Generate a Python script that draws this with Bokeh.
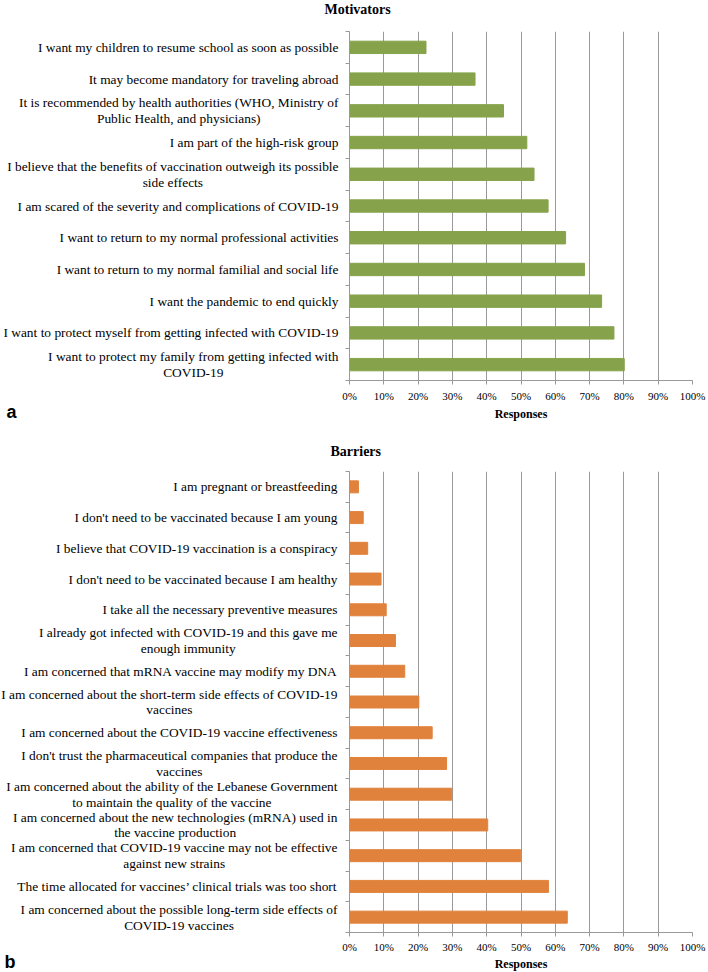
from bokeh.plotting import figure
from bokeh.layouts import column
from bokeh.models import Range1d, FixedTicker, NumeralTickFormatter
from bokeh.core.properties import value
from bokeh.embed import file_html
from bokeh.resources import INLINE

# Motivators (top to bottom as in the chart)
motivators = [
    "I want my children to resume school as soon as possible",
    "It may become mandatory for traveling abroad",
    "It is recommended by health authorities (WHO, Ministry of\nPublic Health, and physicians)",
    "I am part of the high-risk group",
    "I believe that the benefits of vaccination outweigh its possible\nside effects",
    "I am scared of the severity and complications of COVID-19",
    "I want to return to my normal professional activities",
    "I want to return to my normal familial and social life",
    "I want the pandemic to end quickly",
    "I want to protect myself from getting infected with COVID-19",
    "I want to protect my family from getting infected with\nCOVID-19",
]
motivator_values = [0.223, 0.366, 0.449, 0.517, 0.538, 0.579, 0.630, 0.685, 0.735, 0.771, 0.801]

# Barriers (top to bottom as in the chart)
barriers = [
    "I am pregnant or breastfeeding",
    "I don't need to be vaccinated because I am young",
    "I believe that COVID-19 vaccination is a conspiracy",
    "I don't need to be vaccinated because I am healthy",
    "I take all the necessary preventive measures",
    "I already got infected with COVID-19 and this gave me\nenough immunity",
    "I am concerned that mRNA vaccine may modify my DNA",
    "I am concerned about the short-term side effects of COVID-19\nvaccines",
    "I am concerned about the COVID-19 vaccine effectiveness",
    "I don't trust the pharmaceutical companies that produce the\nvaccines",
    "I am concerned about the ability of the Lebanese Government\nto maintain the quality of the vaccine",
    "I am concerned about the new technologies (mRNA) used in\nthe vaccine production",
    "I am concerned that COVID-19 vaccine may not be effective\nagainst new strains",
    "The time allocated for vaccines\u2019 clinical trials was too short",
    "I am concerned about the possible long-term side effects of\nCOVID-19 vaccines",
]
barrier_values = [0.026, 0.040, 0.053, 0.092, 0.107, 0.134, 0.161, 0.202, 0.241, 0.283, 0.298, 0.403, 0.499, 0.580, 0.635]

x_ticks = [i / 10 for i in range(11)]

SERIF = "Liberation Serif"
GRID = "#999999"
W = 708


def bar_chart(labels, values, color, title, title_dx, title_dy, letter, letter_dy,
              height, top, bottom, left, label_gap, tick_standoff, resp_dy):
    n = len(labels)
    idx = list(range(n))
    p = figure(width=W, height=height, output_backend="svg", toolbar_location=None,
               x_range=Range1d(0, 1), y_range=Range1d(n - 0.5, -0.5),
               min_border_left=left, min_border_right=16,
               min_border_top=top, min_border_bottom=height - bottom)
    p.outline_line_color = None
    p.background_fill_color = "white"

    p.hbar(y=idx, left=0, right=values, height=0.39, color=color)

    # category labels, right-aligned block with centred lines
    p.text(x=[0] * n, y=idx, text=labels, x_offset=-label_gap,
           anchor="center_right", text_align="center", text_baseline="middle",
           text_font=value(SERIF), text_font_size="13.4px", text_color="black",
           text_line_height=1.05, level="overlay")

    # chart title above the frame's top-left corner
    p.text(x=[0], y=[-0.5], text=[title], x_offset=title_dx, y_offset=-title_dy,
           text_align="left", text_baseline="middle",
           text_font=value(SERIF), text_font_style="bold", text_font_size="14px",
           text_color="black", level="overlay")

    # axis title under the tick labels, centred on the frame
    p.text(x=[0.5], y=[n - 0.5], text=["Responses"], y_offset=resp_dy,
           text_align="center", text_baseline="middle",
           text_font=value(SERIF), text_font_style="bold", text_font_size="12px",
           text_color="black", level="overlay")

    # panel letter in the lower-left corner of the canvas
    p.text(x=[0], y=[n - 0.5], text=[letter], x_offset=-left + 4, y_offset=letter_dy,
           text_align="left", text_baseline="middle",
           text_font=value("Liberation Sans"), text_font_style="bold",
           text_font_size="18px", text_color="black", level="overlay")

    p.xaxis.ticker = FixedTicker(ticks=x_ticks)
    p.xaxis.formatter = NumeralTickFormatter(format="0%")
    p.xaxis.axis_line_color = GRID
    p.xaxis.major_tick_line_color = GRID
    p.xaxis.major_tick_out = 4
    p.xaxis.major_tick_in = 0
    p.xaxis.minor_tick_line_color = None
    p.xaxis.major_label_standoff = tick_standoff
    p.xaxis.major_label_text_font = SERIF
    p.xaxis.major_label_text_font_size = "11px"
    p.xaxis.major_label_text_color = "black"

    p.yaxis.ticker = FixedTicker(ticks=[i - 0.5 for i in range(n + 1)])
    p.yaxis.major_label_text_color = None
    p.yaxis.major_label_text_font_size = "1px"
    p.yaxis.axis_line_color = GRID
    p.yaxis.major_tick_line_color = GRID
    p.yaxis.major_tick_out = 4
    p.yaxis.major_tick_in = 0
    p.yaxis.minor_tick_line_color = None

    p.xgrid.ticker = FixedTicker(ticks=x_ticks)
    p.xgrid.grid_line_color = GRID
    p.ygrid.grid_line_color = None
    return p


# top chart: frame 347..692 x 31..380 on a 440 px high canvas
top = bar_chart(motivators, motivator_values, "#86A34B", "Motivators", -25, 22, "a", 31,
                440, 31, 380, 347, 11, 5, 33)

# bottom chart: frame 349..692 x 31..492 on a 532 px high canvas
bottom = bar_chart(barriers, barrier_values, "#E0823C", "Barriers", -19, 20, "b", 29,
                   532, 31, 492, 349, 12, 4, 31)

layout = column(top, bottom, spacing=0)
open("out.html", "w").write(file_html(layout, INLINE))
